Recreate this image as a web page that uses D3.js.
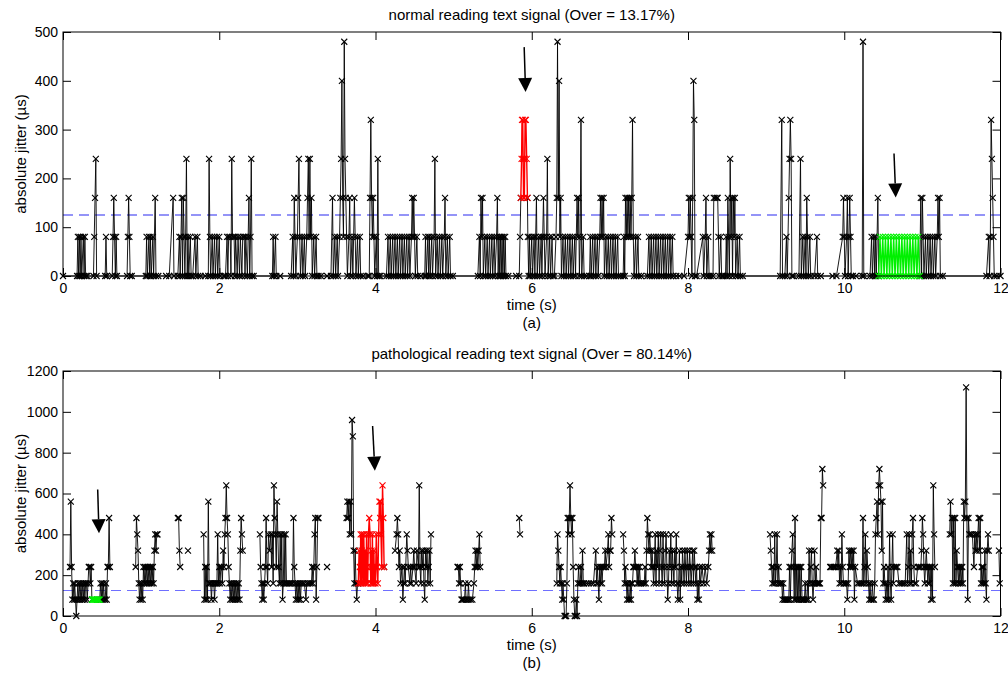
<!DOCTYPE html>
<html><head><meta charset="utf-8">
<script src="https://cdn.jsdelivr.net/npm/d3@7"></script>
<style>body{margin:0;background:#fff} svg{display:block} text{font-family:"Liberation Sans",Arial,sans-serif;fill:#000}</style>
</head><body>
<svg id="chart" width="1008" height="673"></svg>
<script>
const xTicks=[0,2,4,6,8,10,12];
const topYTicks=[0,100,200,300,400,500];
const botYTicks=[0,200,400,600,800,1000,1200];
const threshold=125;
const topTitle="normal reading text signal (Over = 13.17%)";
const botTitle="pathological reading text signal (Over = 80.14%)";

const topSignal=[[0.00,0],[0.18,0],[0.19,80],[0.20,0],[0.21,80],[0.22,0],[0.23,80],[0.24,0],[0.26,80],[0.27,0],[0.28,80],[0.29,0],[0.31,0],[0.39,0],[0.40,80],[0.41,160],[0.42,240],[0.43,0],
[0.54,0],[0.55,80],[0.56,0],[0.63,0],[0.64,80],[0.65,160],[0.66,80],[0.67,0],[0.68,80],[0.69,0],
[0.82,0],[0.83,80],[0.84,160],[0.85,80],[0.86,0],[0.88,0],
[1.06,0],[1.07,80],[1.08,0],[1.10,80],[1.11,0],[1.12,80],[1.13,0],[1.15,80],[1.16,0],[1.18,160],[1.19,0],[1.22,0],
[1.32,0],[1.36,0],[1.41,160],[1.42,0],[1.47,0],[1.49,80],[1.50,0],[1.51,80],[1.52,160],[1.53,0],[1.54,160],[1.55,80],[1.56,0],[1.57,80],[1.58,240],[1.59,0],[1.60,80],[1.61,0],[1.63,80],[1.64,0],[1.66,0],[1.69,80],[1.70,0],[1.72,80],[1.73,0],[1.76,0],
[1.82,0],[1.86,0],[1.87,240],[1.88,80],[1.89,0],[1.91,80],[1.92,0],[1.94,80],[1.95,0],[1.97,80],[1.98,0],[2.00,80],[2.01,0],[2.06,0],
[2.08,0],[2.10,80],[2.11,0],[2.12,80],[2.14,80],[2.15,0],[2.16,240],[2.17,80],[2.19,80],[2.20,0],[2.21,80],[2.23,0],[2.24,80],[2.26,0],[2.27,80],[2.29,0],[2.30,80],[2.32,80],[2.33,0],[2.34,80],[2.36,0],[2.37,80],[2.38,160],[2.39,0],[2.40,80],[2.41,240],[2.42,0],[2.44,0],
[2.68,0],[2.69,80],[2.70,0],[2.72,80],[2.73,0],[2.78,0],
[2.92,0],[2.94,80],[2.95,0],[2.96,160],[2.97,80],[2.98,0],[3.00,80],[3.01,160],[3.02,240],[3.03,80],[3.04,0],[3.06,80],[3.07,0],[3.09,80],[3.10,0],[3.12,80],[3.13,160],[3.14,240],[3.15,80],[3.16,240],[3.17,80],[3.18,160],[3.19,0],[3.21,80],[3.22,0],[3.24,80],[3.25,0],[3.27,0],[3.30,0],
[3.38,0],[3.43,0],[3.45,160],[3.46,0],[3.48,80],[3.49,0],[3.51,80],[3.52,0],[3.54,80],[3.55,160],[3.56,240],[3.57,400],[3.58,160],[3.59,80],[3.60,480],[3.61,240],[3.62,160],[3.63,80],[3.64,0],[3.66,80],[3.67,160],[3.68,0],[3.70,80],[3.71,0],[3.73,160],[3.74,80],[3.75,0],[3.77,80],[3.78,0],[3.80,80],[3.81,0],[3.84,0],
[3.90,0],[3.92,0],[3.93,160],[3.94,320],[3.95,160],[3.96,80],[3.97,160],[3.98,80],[3.99,0],[4.01,80],[4.02,0],[4.03,240],[4.04,0],[4.06,0],
[4.14,0],[4.16,80],[4.17,0],[4.19,80],[4.20,0],[4.22,80],[4.23,0],[4.25,80],[4.26,0],[4.28,80],[4.29,0],[4.31,80],[4.32,0],[4.34,80],[4.35,0],[4.37,80],[4.38,0],[4.40,80],[4.41,0],[4.43,80],[4.44,0],[4.46,80],[4.47,160],[4.48,80],[4.49,160],[4.50,80],[4.51,0],[4.53,80],[4.54,0],[4.58,0],
[4.63,0],[4.64,80],[4.65,0],[4.67,80],[4.68,0],[4.69,80],[4.70,0],[4.72,80],[4.73,0],[4.75,80],[4.76,240],[4.77,0],[4.79,80],[4.80,0],[4.82,80],[4.83,0],[4.85,80],[4.86,0],[4.88,80],[4.89,160],[4.90,0],[4.92,80],[4.93,0],[4.95,80],[4.96,0],[4.99,0],
[5.31,0],[5.33,80],[5.34,0],[5.35,160],[5.36,80],[5.37,160],[5.38,0],[5.40,80],[5.41,0],[5.43,80],[5.44,0],[5.46,80],[5.47,0],[5.49,80],[5.50,0],[5.52,80],[5.53,0],[5.55,80],[5.56,160],[5.57,0],[5.58,80],[5.59,0],[5.60,80],[5.61,0],[5.62,80],[5.63,0],[5.64,80],[5.65,0],[5.66,80],[5.67,0],[5.70,0],
[5.80,0],[5.84,0],[5.85,80],[5.86,160],[5.862,null],[5.945,160],[5.95,80],[5.96,0],[5.97,80],[5.98,0],[6.00,80],[6.01,0],[6.03,80],[6.04,0],[6.05,80],[6.06,160],[6.07,0],[6.09,80],[6.10,0],[6.12,80],[6.13,0],[6.14,80],[6.15,160],[6.16,80],[6.17,0],[6.19,80],[6.20,240],[6.21,0],[6.23,80],[6.24,0],[6.26,80],[6.27,0],[6.29,0],
[6.31,80],[6.32,160],[6.33,480],[6.34,160],[6.35,400],[6.36,80],[6.37,160],[6.38,0],
[6.40,80],[6.41,0],[6.43,80],[6.44,0],[6.46,80],[6.47,0],[6.49,80],[6.50,0],[6.52,80],[6.53,0],[6.55,80],[6.56,0],[6.58,160],[6.59,80],[6.60,160],[6.61,0],[6.62,80],[6.63,320],[6.64,0],[6.66,80],[6.67,0],[6.70,0],
[6.74,0],[6.75,80],[6.76,0],[6.78,80],[6.79,0],[6.81,80],[6.82,0],[6.84,80],[6.85,0],[6.87,80],[6.88,160],[6.89,80],[6.90,160],[6.91,80],[6.92,160],[6.93,0],[6.95,80],[6.96,0],[6.98,80],[6.99,0],[7.01,80],[7.02,0],[7.04,80],[7.05,0],[7.07,80],[7.08,0],[7.10,80],[7.11,0],[7.14,0],
[7.17,0],[7.18,80],[7.19,0],[7.20,160],[7.21,80],[7.22,160],[7.23,80],[7.24,160],[7.25,80],[7.26,160],[7.27,80],[7.28,160],[7.29,320],[7.30,80],[7.31,0],[7.33,80],[7.34,0],[7.36,80],[7.37,0],[7.40,0],
[7.48,0],[7.50,80],[7.51,0],[7.53,80],[7.54,0],[7.56,80],[7.57,0],[7.59,80],[7.60,0],[7.62,80],[7.63,0],[7.65,80],[7.66,0],[7.68,80],[7.69,0],[7.71,80],[7.72,0],[7.74,80],[7.75,0],[7.77,80],[7.78,0],[7.80,80],[7.81,0],[7.85,0],
[7.89,0],[7.95,0],[8.00,80],[8.01,160],[8.02,80],[8.03,160],[8.04,80],[8.05,0],[8.06,160],[8.07,400],[8.08,320],[8.09,0],[8.11,0],
[8.19,80],[8.20,0],[8.22,80],[8.23,160],[8.24,0],[8.26,80],[8.27,0],[8.29,0],
[8.32,0],[8.33,160],[8.35,160],[8.37,160],[8.38,160],[8.39,80],[8.40,0],[8.42,80],[8.43,0],[8.45,0],
[8.48,0],[8.49,80],[8.50,0],[8.51,160],[8.52,80],[8.53,0],[8.54,240],[8.55,80],[8.56,160],[8.57,0],[8.58,160],[8.59,80],[8.60,160],[8.61,0],[8.63,80],[8.64,0],[8.66,80],[8.67,0],[8.70,0],
[9.18,0],[9.20,320],[9.21,0],[9.24,0],[9.26,80],[9.27,0],[9.29,160],[9.30,240],[9.31,320],[9.32,240],[9.33,0],[9.35,0],
[9.42,0],[9.44,240],[9.45,0],[9.47,80],[9.48,0],[9.50,80],[9.51,0],[9.52,160],[9.53,80],[9.54,0],[9.56,80],[9.57,0],[9.62,0],[9.65,80],[9.66,0],[9.70,0],
[9.85,0],[9.90,0],[9.98,80],[9.99,160],[10.00,80],[10.01,0],[10.03,80],[10.04,160],[10.05,0],[10.06,80],[10.07,160],[10.08,80],[10.09,0],[10.11,0],[10.15,0],[10.23,0],[10.24,480],[10.25,0],[10.33,0],
[10.35,80],[10.36,0],[10.38,80],[10.39,0],[10.40,80],[10.41,0],[10.43,160],[10.44,0],[10.442,null],[10.965,0],
[10.98,160],[10.99,0],[11.00,160],[11.01,80],[11.02,0],[11.04,80],[11.05,0],[11.07,80],[11.08,0],[11.10,80],[11.11,0],[11.13,80],[11.14,0],[11.16,80],[11.17,0],[11.19,80],[11.20,160],[11.21,80],[11.22,160],[11.23,0],[11.26,0],
[11.82,0],[11.85,80],[11.86,0],[11.87,80],[11.88,320],[11.89,240],[11.90,160],[11.91,80],[11.92,0],[11.95,0],[12.00,0]];

const topRed=[[5.86,160],[5.87,240],[5.875,320],[5.885,320],[5.89,240],[5.895,160],[5.905,160],[5.91,240],[5.915,320],[5.925,320],[5.935,240],[5.945,160]];

const topGreen=[[10.44,0],[10.4575,80],[10.475,0],[10.4925,80],[10.51,0],[10.5275,80],[10.545,0],[10.5625,80],[10.58,0],[10.5975,80],[10.615,0],[10.6325,80],[10.65,0],[10.6675,80],[10.685,0],[10.7025,80],[10.72,0],[10.7375,80],[10.755,0],[10.7725,80],[10.79,0],[10.8075,80],[10.825,0],[10.8425,80],[10.86,0],[10.8775,80],[10.895,0],[10.9125,80],[10.93,0],[10.9475,80],[10.965,0]];

const botSignal=[[0.09,240],[0.10,560],[0.11,240],[0.12,80],[0.13,160],[0.14,80],[0.15,160],[0.16,80],[0.17,0],[0.18,80],[0.19,160],[0.20,80],[0.21,160],[0.22,80],[0.23,160],[0.24,80],[0.25,160],[0.26,80],[0.27,160],[0.28,80],[0.29,160],[0.30,160],[0.31,80],[0.32,160],[0.33,240],[0.34,240],[0.35,160],[0.36,240],[0.37,80],[0.372,null],[0.47,80],[0.48,160],[0.49,80],[0.50,160],[0.51,80],[0.52,160],[0.53,80],[0.54,80],[0.55,160],[0.56,80],[0.57,240],[0.58,240],[0.59,480],[0.60,240],[0.61,null],
[0.93,240],[0.94,480],[0.95,400],[0.96,320],[0.97,160],[0.98,80],[0.99,160],[1.00,80],[1.01,160],[1.02,80],[1.03,240],[1.04,160],[1.05,240],[1.06,160],[1.07,240],[1.08,160],[1.09,240],[1.10,160],[1.11,240],[1.12,160],[1.13,240],[1.14,160],[1.15,240],[1.16,160],[1.17,320],[1.18,400],[1.19,320],[1.20,400],[1.21,400],[1.22,null],
[1.47,480],[1.48,480],[1.49,320],[1.50,240],[1.51,null],[1.60,320],[1.61,null],
[1.80,400],[1.81,80],[1.82,240],[1.83,80],[1.84,240],[1.85,80],[1.86,560],[1.87,160],[1.88,160],[1.89,160],[1.90,80],[1.91,160],[1.92,160],[1.93,160],[1.94,80],[1.95,160],[1.96,160],[1.97,160],[1.98,400],[1.99,160],[2.00,240],[2.01,160],[2.02,240],[2.03,240],[2.04,160],[2.05,320],[2.06,240],[2.07,400],[2.08,480],[2.09,640],[2.10,480],[2.11,400],[2.12,240],[2.13,160],[2.14,80],[2.15,160],[2.16,80],[2.17,160],[2.18,80],[2.19,160],[2.20,80],[2.21,160],[2.22,80],[2.23,160],[2.24,80],[2.25,160],[2.26,80],[2.27,320],[2.28,480],[2.29,400],[2.30,320],[2.31,null],
[2.52,400],[2.53,240],[2.54,160],[2.55,80],[2.56,160],[2.57,80],[2.58,160],[2.59,240],[2.60,480],[2.61,240],[2.62,160],[2.63,400],[2.645,320],[2.66,400],[2.67,240],[2.68,400],[2.69,160],[2.70,640],[2.71,480],[2.72,400],[2.73,240],[2.74,560],[2.75,400],[2.76,240],[2.77,160],[2.78,400],[2.79,160],[2.80,400],[2.81,80],[2.82,160],[2.83,400],[2.84,160],[2.85,400],[2.86,160],[2.87,160],[2.89,160],[2.90,160],[2.92,160],[2.94,160],[2.95,480],[2.96,240],[2.97,160],[2.98,80],[2.99,160],[3.00,80],[3.01,160],[3.02,80],[3.03,160],[3.04,80],[3.05,160],[3.07,160],[3.09,160],[3.11,80],[3.12,160],[3.14,160],[3.16,160],[3.18,160],[3.19,240],[3.20,160],[3.21,240],[3.22,400],[3.23,480],[3.24,80],[3.25,240],[3.26,480],[3.27,480],[3.28,null],[3.38,240],[3.39,null],
[3.63,480],[3.64,560],[3.65,480],[3.66,560],[3.67,400],[3.68,560],[3.69,400],[3.70,960],[3.71,880],[3.72,320],[3.73,160],[3.74,320],[3.75,160],[3.76,80],[3.77,160],[3.78,160],[3.782,null],[4.11,240],[4.12,null],
[4.25,320],[4.27,400],[4.28,480],[4.29,400],[4.30,240],[4.31,320],[4.32,160],[4.34,240],[4.35,80],[4.36,160],[4.37,240],[4.38,160],[4.40,400],[4.41,320],[4.42,240],[4.44,160],[4.45,240],[4.46,160],[4.48,240],[4.49,320],[4.50,240],[4.52,160],[4.53,320],[4.55,240],[4.56,640],[4.57,240],[4.58,160],[4.59,320],[4.60,240],[4.61,320],[4.62,160],[4.63,80],[4.64,320],[4.65,240],[4.66,320],[4.67,160],[4.68,240],[4.69,320],[4.70,160],[4.71,400],[4.72,null],
[5.05,240],[5.06,240],[5.07,160],[5.08,240],[5.09,160],[5.10,80],[5.11,80],[5.12,80],[5.14,80],[5.15,160],[5.16,80],[5.18,80],[5.19,160],[5.20,80],[5.22,80],[5.24,80],[5.26,160],[5.27,240],[5.28,320],[5.29,240],[5.30,320],[5.31,240],[5.32,320],[5.33,400],[5.34,240],[5.35,null],
[5.84,480],[5.85,400],[5.86,null],
[6.32,160],[6.33,400],[6.34,320],[6.35,240],[6.36,160],[6.37,240],[6.38,160],[6.39,80],[6.40,160],[6.41,80],[6.42,0],[6.43,0],[6.44,0],[6.45,160],[6.46,480],[6.47,400],[6.48,480],[6.49,640],[6.50,480],[6.51,400],[6.52,480],[6.53,240],[6.54,80],[6.55,0],[6.56,0],[6.57,80],[6.58,0],[6.59,160],[6.60,240],[6.61,160],[6.62,160],[6.63,240],[6.64,160],[6.65,320],[6.66,160],[6.67,160],[6.70,160],[6.73,160],[6.76,160],[6.79,160],[6.82,320],[6.83,160],[6.84,240],[6.85,160],[6.86,80],[6.87,240],[6.88,160],[6.89,240],[6.90,160],[6.91,240],[6.93,240],[6.94,320],[6.95,240],[6.97,320],[6.98,400],[6.99,240],[7.00,320],[7.01,320],[7.02,480],[7.03,400],[7.04,null],
[7.17,400],[7.18,320],[7.19,160],[7.20,240],[7.21,160],[7.22,80],[7.23,160],[7.24,80],[7.25,80],[7.26,160],[7.27,80],[7.28,160],[7.29,160],[7.30,240],[7.31,240],[7.32,320],[7.33,240],[7.34,240],[7.35,160],[7.36,240],[7.37,160],[7.38,240],[7.39,160],[7.40,160],[7.42,160],[7.44,160],[7.45,240],[7.46,160],[7.47,320],[7.48,480],[7.49,400],[7.50,320],[7.51,400],[7.52,320],[7.53,240],[7.54,320],[7.55,240],[7.56,160],[7.57,240],[7.58,400],[7.59,160],[7.60,320],[7.61,240],[7.62,400],[7.63,160],[7.64,320],[7.65,400],[7.66,240],[7.67,160],[7.68,400],[7.69,240],[7.70,160],[7.71,320],[7.72,400],[7.73,240],[7.74,80],[7.75,160],[7.76,320],[7.77,240],[7.78,400],[7.79,160],[7.80,320],[7.81,240],[7.82,160],[7.83,320],[7.84,240],[7.85,400],[7.86,160],[7.87,80],[7.88,160],[7.89,320],[7.90,80],[7.91,240],[7.92,160],[7.93,320],[7.94,240],[7.95,160],[7.96,320],[7.97,240],[7.98,160],[7.99,320],[8.00,240],[8.01,160],[8.02,320],[8.03,240],[8.04,160],[8.05,240],[8.06,320],[8.07,160],[8.08,320],[8.09,240],[8.10,160],[8.11,240],[8.12,80],[8.13,160],[8.14,80],[8.15,240],[8.16,160],[8.18,240],[8.20,160],[8.22,240],[8.24,160],[8.26,240],[8.27,320],[8.28,400],[8.29,320],[8.30,400],[8.31,320],[8.32,null],
[9.05,400],[9.06,320],[9.07,240],[9.08,160],[9.09,240],[9.10,160],[9.11,400],[9.12,160],[9.13,240],[9.14,400],[9.15,160],[9.16,240],[9.17,160],[9.18,160],[9.19,160],[9.20,160],[9.21,80],[9.22,160],[9.23,80],[9.24,80],[9.25,80],[9.26,80],[9.27,80],[9.28,80],[9.29,80],[9.30,240],[9.31,80],[9.32,240],[9.33,320],[9.34,400],[9.35,240],[9.36,80],[9.37,480],[9.38,80],[9.39,240],[9.40,80],[9.41,240],[9.42,80],[9.43,240],[9.44,80],[9.45,240],[9.46,80],[9.47,80],[9.48,80],[9.49,80],[9.50,160],[9.51,80],[9.52,80],[9.53,160],[9.54,80],[9.55,320],[9.56,160],[9.57,240],[9.58,320],[9.59,160],[9.60,80],[9.61,160],[9.62,320],[9.63,160],[9.64,240],[9.65,160],[9.66,160],[9.67,160],[9.68,160],[9.69,160],[9.70,480],[9.71,480],[9.72,720],[9.73,640],[9.74,null],
[9.82,240],[9.83,240],[9.85,240],[9.87,240],[9.89,240],[9.91,320],[9.92,240],[9.93,320],[9.94,160],[9.95,240],[9.96,160],[9.97,400],[9.98,240],[9.99,160],[10.00,160],[10.02,160],[10.03,160],[10.04,80],[10.05,160],[10.06,320],[10.07,240],[10.08,320],[10.09,240],[10.10,320],[10.11,240],[10.12,320],[10.13,80],[10.14,240],
[10.17,160],[10.19,160],[10.21,160],[10.23,160],[10.24,480],[10.25,160],[10.26,240],[10.27,400],[10.28,160],[10.29,320],[10.30,240],[10.31,160],[10.32,80],[10.33,160],[10.34,80],[10.35,80],[10.36,160],[10.37,80],[10.38,80],[10.39,160],[10.40,400],[10.41,480],[10.42,560],[10.43,400],[10.44,640],[10.45,720],[10.46,640],[10.47,560],[10.48,320],[10.49,560],[10.50,160],[10.51,240],[10.52,160],[10.53,80],[10.54,160],[10.55,80],[10.56,240],[10.57,80],[10.58,400],[10.59,160],[10.60,80],[10.61,240],[10.62,400],[10.63,160],[10.64,240],
[10.66,240],[10.68,240],[10.70,160],[10.72,160],[10.74,160],[10.76,160],[10.78,160],[10.80,400],[10.81,160],[10.82,240],[10.83,400],[10.84,160],[10.85,320],[10.86,160],[10.87,400],[10.88,480],[10.89,240],[10.90,160],[10.92,160],[10.94,240],[10.96,240],[10.98,240],[10.99,320],[11.00,480],[11.01,400],[11.02,240],[11.03,160],[11.04,240],[11.05,320],[11.06,240],[11.07,160],[11.08,240],[11.09,160],[11.10,240],[11.11,80],[11.12,240],[11.13,80],[11.14,640],[11.15,400],[11.16,240],[11.17,null],
[11.35,400],[11.36,560],[11.37,400],[11.38,480],[11.39,160],[11.40,480],[11.41,160],[11.42,480],[11.43,160],[11.44,320],[11.45,240],[11.46,160],[11.47,240],[11.48,160],[11.49,240],[11.50,160],[11.51,240],[11.52,160],[11.53,560],[11.54,480],[11.55,560],[11.56,1120],[11.57,480],[11.58,80],[11.59,480],[11.60,400],[11.62,400],[11.64,400],[11.66,240],[11.67,400],[11.68,320],[11.69,400],[11.70,320],[11.71,400],[11.72,480],[11.73,320],[11.74,480],[11.75,160],[11.76,240],[11.77,160],[11.78,240],[11.79,160],[11.80,320],[11.81,160],[11.82,80],[11.83,320],[11.84,400],[11.85,320],[11.86,null],
[11.98,320],[11.99,160]];

const botRed=[[3.78,160],[3.79,320],[3.80,240],[3.805,160],[3.81,400],[3.82,160],[3.825,320],[3.83,400],[3.84,160],[3.845,240],[3.85,400],[3.86,160],[3.865,320],[3.87,240],[3.88,160],[3.885,400],[3.89,240],[3.90,160],[3.91,400],[3.92,480],[3.93,400],[3.935,240],[3.94,160],[3.95,320],[3.955,160],[3.96,400],[3.965,240],[3.97,160],[3.98,320],[3.985,160],[3.99,240],[4.00,160],[4.01,400],[4.02,240],[4.03,160],[4.04,400],[4.05,560],[4.06,480],[4.065,560],[4.07,400],[4.08,240],[4.09,640],[4.10,480],[4.11,240]];

const botGreen=[[0.37,80],[0.38,80],[0.39,80],[0.40,80],[0.41,80],[0.42,80],[0.43,80],[0.44,80],[0.45,80],[0.46,80],[0.47,80]];

const topArrows=[[5.903,469,5.921,377],[10.637,251,10.659,161]];
const botArrows=[[0.444,620,0.461,405],[3.963,931,3.992,712]];

const svg=d3.select("#chart");
const x=d3.scaleLinear().domain([0,12]).range([63,1000.5]);

function panel(o){
  const y=d3.scaleLinear().domain(o.yDomain).range([o.bottom,o.top]);
  const g=svg.append("g");
  g.append("line").attr("x1",x(0)).attr("x2",x(12)).attr("y1",y(threshold)).attr("y2",y(threshold))
    .attr("stroke",o.dash).attr("stroke-width",1.2).attr("stroke-dasharray","10,6");
  const line=d3.line().defined(d=>d[1]!=null).x(d=>x(d[0])).y(d=>y(d[1]));
  const mk="M-3,-3L3,3M-3,3L3,-3";
  function series(data,color,w){
    g.append("path").attr("d",line(data)).attr("fill","none").attr("stroke",color).attr("stroke-width",w).attr("stroke-linejoin","round");
    g.append("g").selectAll("path").data(data.filter(d=>d[1]!=null)).join("path")
      .attr("transform",d=>`translate(${x(d[0])},${y(d[1])})`).attr("d",mk)
      .attr("stroke",color).attr("stroke-width",1.1).attr("fill","none");
  }
  series(o.signal,"#000",0.9);
  series(o.red,"#ff0000",1.4);
  series(o.green,"#00f000",1.4);
  const fmt=d3.format("d");
  const ax=g.append("g");
  ax.append("g").attr("transform",`translate(0,${o.bottom})`)
    .call(d3.axisBottom(x).tickValues(xTicks).tickFormat(fmt).tickSize(-8).tickSizeOuter(0).tickPadding(7))
    .call(s=>{s.select(".domain").remove();s.selectAll("text").attr("font-size",14).attr("font-family","Liberation Sans, Arial");});
  ax.append("g").attr("transform",`translate(0,${o.top})`)
    .call(d3.axisTop(x).tickValues(xTicks).tickSize(-8).tickSizeOuter(0).tickFormat(""))
    .call(s=>s.select(".domain").remove());
  ax.append("g").attr("transform",`translate(${x(0)},0)`)
    .call(d3.axisLeft(y).tickValues(o.yTicks).tickFormat(fmt).tickSize(-8).tickSizeOuter(0).tickPadding(5))
    .call(s=>{s.select(".domain").remove();s.selectAll("text").attr("font-size",14).attr("font-family","Liberation Sans, Arial");});
  ax.append("g").attr("transform",`translate(${x(12)},0)`)
    .call(d3.axisRight(y).tickValues(o.yTicks).tickSize(-8).tickSizeOuter(0).tickFormat(""))
    .call(s=>s.select(".domain").remove());
  ax.append("rect").attr("x",x(0)).attr("y",o.top).attr("width",x(12)-x(0)).attr("height",o.bottom-o.top)
    .attr("fill","none").attr("stroke","#000").attr("stroke-width",1);
  o.arrows.forEach(a=>{
    const x1=x(a[0]),y1=y(a[1]),x2=x(a[2]),y2=y(a[3]);
    const dx=x2-x1,dy=y2-y1,L=Math.hypot(dx,dy),ux=dx/L,uy=dy/L;
    const hl=14,hw=7;
    const bx=x2-ux*hl,by=y2-uy*hl;
    g.append("line").attr("x1",x1).attr("y1",y1).attr("x2",bx).attr("y2",by).attr("stroke","#000").attr("stroke-width",1.5);
    g.append("path").attr("d",`M${x2},${y2}L${bx-uy*hw},${by+ux*hw}L${bx+uy*hw},${by-ux*hw}Z`).attr("fill","#000");
  });
  const cx=(x(0)+x(12))/2;
  g.append("text").attr("x",cx).attr("y",o.top-12).attr("text-anchor","middle").attr("font-size",15).text(o.title);
  g.append("text").attr("x",cx).attr("y",o.bottom+34).attr("text-anchor","middle").attr("font-size",15).text("time (s)");
  g.append("text").attr("x",cx).attr("y",o.bottom+52).attr("text-anchor","middle").attr("font-size",15).text(o.sub);
  g.append("text").attr("transform",`translate(26,${(o.top+o.bottom)/2}) rotate(-90)`).attr("text-anchor","middle").attr("font-size",15).text("absolute jitter (µs)");
}

panel({yDomain:[0,500],yTicks:topYTicks,top:32,bottom:276,title:topTitle,sub:"(a)",signal:topSignal,red:topRed,green:topGreen,arrows:topArrows,dash:"#2b2bf0"});
panel({yDomain:[0,1200],yTicks:botYTicks,top:371,bottom:616,title:botTitle,sub:"(b)",signal:botSignal,red:botRed,green:botGreen,arrows:botArrows,dash:"#6f6fff"});
</script>
</body></html>
